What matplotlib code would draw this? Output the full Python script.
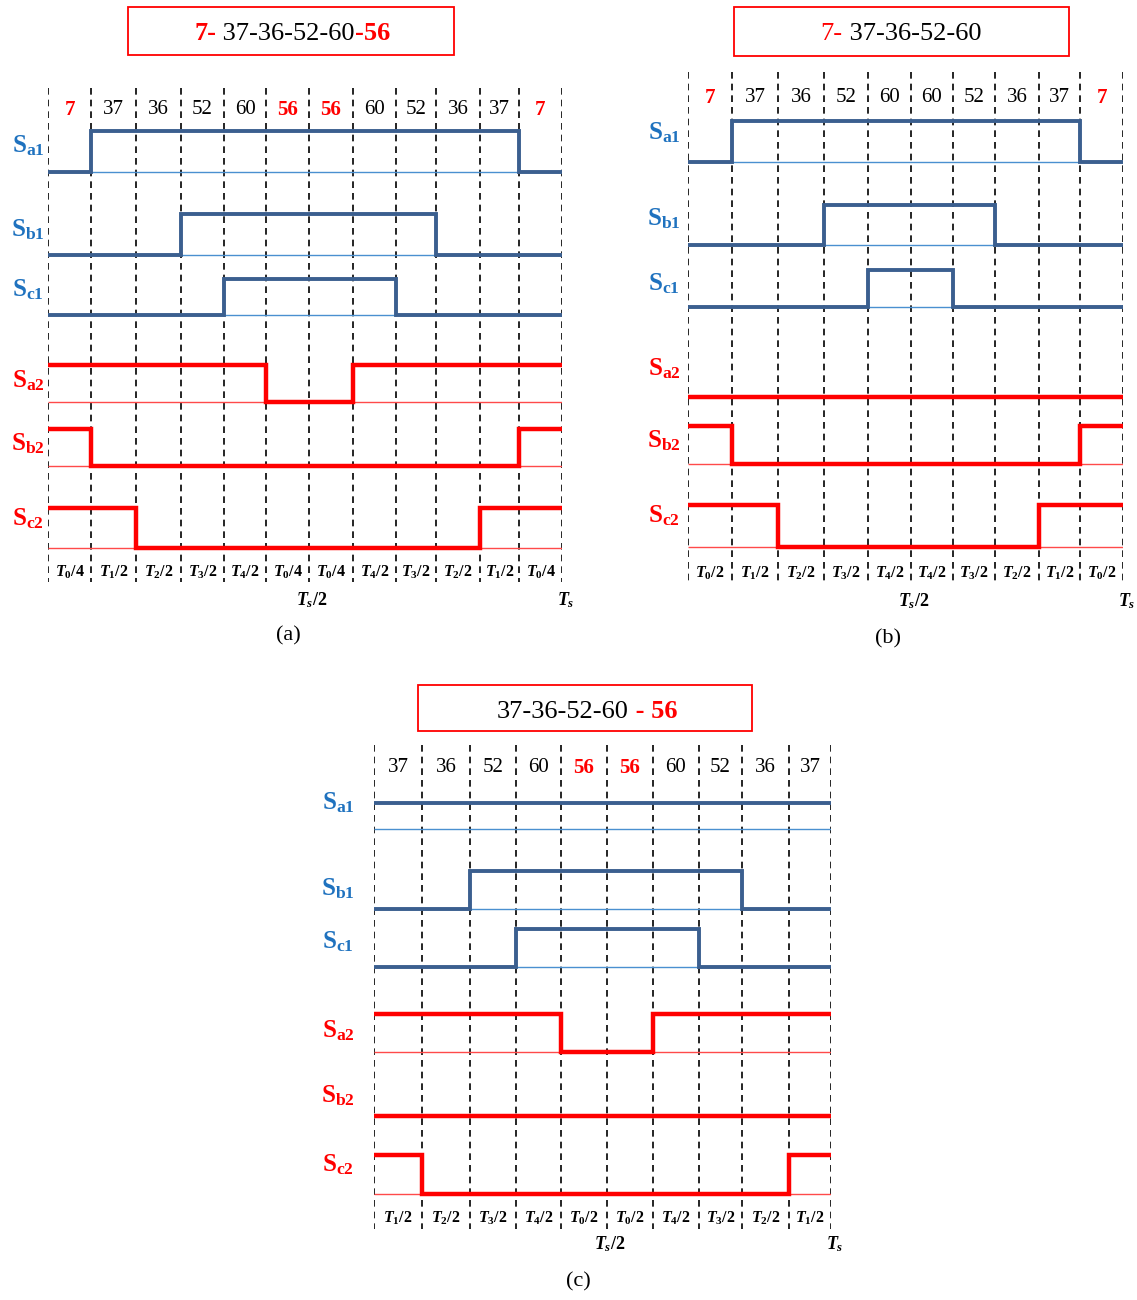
import matplotlib
matplotlib.use('Agg')
import matplotlib.pyplot as plt
import numpy as np
from matplotlib.patches import Rectangle
from matplotlib.offsetbox import TextArea, HPacker, AnnotationBbox

plt.rcParams['font.family'] = ['Liberation Serif', 'DejaVu Serif']
plt.rcParams['mathtext.fontset'] = 'custom'
plt.rcParams['mathtext.rm'] = 'Liberation Serif:bold'
plt.rcParams['mathtext.it'] = 'Liberation Serif:italic:bold'
plt.rcParams['mathtext.bf'] = 'Liberation Serif:bold'

W, H = 1137, 1300

BLUE = '#3b5f8f'
BLUE_TXT = '#1f72bf'
BLUE_THIN = '#4a90d0'
RED = '#ff0000'
RED_THIN = '#ff4a4a'

signal_names = ['Sa1', 'Sb1', 'Sc1', 'Sa2', 'Sb2', 'Sc2']

# ---- panel (a): 7-37-36-52-60-56 ----
a_states = ['7', '37', '36', '52', '60', '56', '56', '60', '52', '36', '37', '7']
a_red = ['7', '56']
a_dur = [43, 45, 45, 43, 42, 43, 44, 43, 40, 44, 39, 43]
a_times = ['T_0/4', 'T_1/2', 'T_2/2', 'T_3/2', 'T_4/2', 'T_0/4',
           'T_0/4', 'T_4/2', 'T_3/2', 'T_2/2', 'T_1/2', 'T_0/4']
a_sa1 = [0, 1, 1, 1, 1, 1, 1, 1, 1, 1, 1, 0]
a_sb1 = [0, 0, 0, 1, 1, 1, 1, 1, 1, 0, 0, 0]
a_sc1 = [0, 0, 0, 0, 1, 1, 1, 1, 0, 0, 0, 0]
a_sa2 = [1, 1, 1, 1, 1, 0, 0, 1, 1, 1, 1, 1]
a_sb2 = [1, 0, 0, 0, 0, 0, 0, 0, 0, 0, 0, 1]
a_sc2 = [1, 1, 0, 0, 0, 0, 0, 0, 0, 0, 1, 1]
a_title = [('7-', RED, 'bold'), (' 37-36-52-60', 'black', 'normal'), ('-56', RED, 'bold')]

# ---- panel (b): 7-37-36-52-60 ----
b_states = ['7', '37', '36', '52', '60', '60', '52', '36', '37', '7']
b_red = ['7']
b_dur = [44, 46, 46, 44, 43, 42, 42, 44, 41, 43]
b_times = ['T_0/2', 'T_1/2', 'T_2/2', 'T_3/2', 'T_4/2',
           'T_4/2', 'T_3/2', 'T_2/2', 'T_1/2', 'T_0/2']
b_sa1 = [0, 1, 1, 1, 1, 1, 1, 1, 1, 0]
b_sb1 = [0, 0, 0, 1, 1, 1, 1, 0, 0, 0]
b_sc1 = [0, 0, 0, 0, 1, 1, 0, 0, 0, 0]
b_sa2 = [1, 1, 1, 1, 1, 1, 1, 1, 1, 1]
b_sb2 = [1, 0, 0, 0, 0, 0, 0, 0, 0, 1]
b_sc2 = [1, 1, 0, 0, 0, 0, 0, 0, 1, 1]
b_title = [('7-', RED, 'normal'), (' 37-36-52-60', 'black', 'normal')]

# ---- panel (c): 37-36-52-60-56 ----
c_states = ['37', '36', '52', '60', '56', '56', '60', '52', '36', '37']
c_red = ['56']
c_dur = [48, 48, 46, 45, 46, 46, 46, 43, 47, 42]
c_times = ['T_1/2', 'T_2/2', 'T_3/2', 'T_4/2', 'T_0/2',
           'T_0/2', 'T_4/2', 'T_3/2', 'T_2/2', 'T_1/2']
c_sa1 = [1, 1, 1, 1, 1, 1, 1, 1, 1, 1]
c_sb1 = [0, 0, 1, 1, 1, 1, 1, 1, 0, 0]
c_sc1 = [0, 0, 0, 1, 1, 1, 1, 0, 0, 0]
c_sa2 = [1, 1, 1, 1, 0, 0, 1, 1, 1, 1]
c_sb2 = [0, 0, 0, 0, 0, 0, 0, 0, 0, 0]
c_sc2 = [1, 0, 0, 0, 0, 0, 0, 0, 0, 1]
c_title = [('37-36-52-60', 'black', 'normal'), (' - 56', RED, 'bold')]

# layout of each panel (pixels): left edge, dashed top/bottom, number row,
# row (high y, low y, baseline drawn), label offset, time label row, Ts row,
# title box, caption
panels = [
    dict(x0=48, states=a_states, red=a_red, dur=a_dur, times=a_times,
         sig=[a_sa1, a_sb1, a_sc1, a_sa2, a_sb2, a_sc2],
         rows=[(131, 172, True), (214, 255, True), (279, 315, True),
               (365, 402, True), (429, 466, True), (508, 548, True)],
         lab_dx=-20, lab_y=[146, 230, 290, 381, 444, 519],
         dash=(88, 582), num_y=108, t_y=572, ts_y=600,
         box=(128, 7, 454, 55), title=a_title, title_xy=(292, 34),
         cap='(a)', cap_xy=(288, 636)),
    dict(x0=688, states=b_states, red=b_red, dur=b_dur, times=b_times,
         sig=[b_sa1, b_sb1, b_sc1, b_sa2, b_sb2, b_sc2],
         rows=[(121, 162, True), (205, 245, True), (270, 307, True),
               (397, 436, False), (426, 464, True), (505, 547, True)],
         lab_dx=-24, lab_y=[133, 219, 284, 369, 441, 516],
         dash=(72, 582), num_y=96, t_y=573, ts_y=601,
         box=(734, 7, 1069, 56), title=b_title, title_xy=(901, 34),
         cap='(b)', cap_xy=(888, 639)),
    dict(x0=374, states=c_states, red=c_red, dur=c_dur, times=c_times,
         sig=[c_sa1, c_sb1, c_sc1, c_sa2, c_sb2, c_sc2],
         rows=[(803, 829, True), (871, 909, True), (929, 967, True),
               (1014, 1052, True), (1078, 1116, False), (1155, 1194, True)],
         lab_dx=-36, lab_y=[803, 889, 942, 1031, 1096, 1165],
         dash=(745, 1229), num_y=766, t_y=1218, ts_y=1244,
         box=(418, 685, 752, 731), title=c_title, title_xy=(587, 711),
         cap='(c)', cap_xy=(578, 1282)),
]

fig = plt.figure(figsize=(W / 100, H / 100), dpi=100)

# overlay axes in pixel coordinates for frames and captions
top = fig.add_axes([0, 0, 1, 1])
top.set_xlim(0, W)
top.set_ylim(H, 0)
top.axis('off')

for p in panels:
    edges = np.concatenate([[0], np.cumsum(p['dur'])])
    total = edges[-1]
    ax = fig.add_axes([p['x0'] / W, 0, total / W, 1])
    ax.set_xlim(0, total)
    ax.set_ylim(H, 0)
    ax.axis('off')
    ax.patch.set_alpha(0)

    # dashed segment boundaries
    ax.vlines(edges, p['dash'][0], p['dash'][1], colors='black',
              linestyles=(0, (4, 3)), lw=1.2, zorder=1)

    # switching state numbers
    mids = (edges[:-1] + edges[1:]) / 2
    for xm, s in zip(mids, p['states']):
        is_red = s in p['red']
        ax.text(xm, p['num_y'] + 2, s, ha='center', va='center', fontsize=15,
                color=RED if is_red else 'black',
                fontweight='bold' if is_red else 'normal')

    # switching signals
    for i, (name, lv) in enumerate(zip(signal_names, p['sig'])):
        hi, lo, base = p['rows'][i]
        blue = i < 3
        y = [lo - v * (lo - hi) for v in lv]
        if base:
            ax.hlines(lo, 0, total, colors=BLUE_THIN if blue else RED_THIN,
                      lw=1.0, zorder=2)
        ax.stairs(y, edges, baseline=None, color=BLUE if blue else RED,
                  lw=2.8 if blue else 3.2, zorder=3)
        ax.text(p['lab_dx'], p['lab_y'][i],
                r'$\mathrm{S}_{\mathrm{%s}}$' % name[1:],
                ha='center', va='center', fontsize=18,
                color=BLUE_TXT if blue else RED)

    # time intervals
    for xm, t in zip(mids, p['times']):
        ax.text(xm, p['t_y'], '$%s$' % t, ha='center', va='center', fontsize=11.5)
    half = len(p['dur']) // 2
    ax.text(edges[half] + 3, p['ts_y'], '$T_s/2$', ha='center', va='center', fontsize=13)
    ax.text(edges[-1] + 4, p['ts_y'], '$T_s$', ha='center', va='center', fontsize=13)

    # title box with mixed-colour sequence
    bx0, by0, bx1, by1 = p['box']
    top.add_patch(Rectangle((bx0, by0), bx1 - bx0, by1 - by0, fill=False,
                            edgecolor=RED, lw=1.3))
    parts = [TextArea(txt, textprops=dict(color=col, fontweight=fw, fontsize=19))
             for txt, col, fw in p['title']]
    pack = HPacker(children=parts, align='baseline', pad=0, sep=0)
    top.add_artist(AnnotationBbox(pack, p['title_xy'], xycoords='data',
                                  frameon=False, box_alignment=(0.5, 0.5)))

    top.text(p['cap_xy'][0], p['cap_xy'][1], p['cap'], ha='center',
             va='center', fontsize=16)

fig.savefig('out.png', dpi=100)
